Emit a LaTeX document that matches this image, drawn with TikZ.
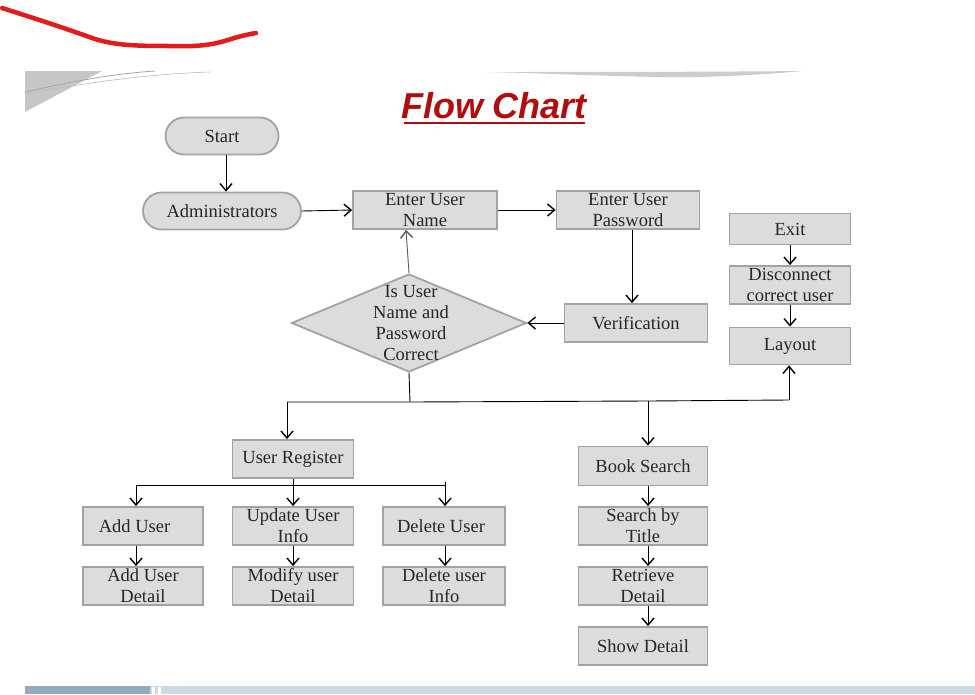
\documentclass[tikz,border=0pt]{standalone}
\usepackage{fontspec}
\setmainfont{Liberation Serif}
\newfontfamily\titlefont{Liberation Sans}
\usetikzlibrary{arrows.meta,shapes.geometric,shapes.misc}
\definecolor{boxfill}{HTML}{DCDCDC}
\definecolor{boxline}{HTML}{A3A3A3}
\definecolor{titlered}{HTML}{B00D0D}
\definecolor{penred}{HTML}{E21B1B}
\definecolor{barDark}{HTML}{92AABF}
\definecolor{barLight}{HTML}{CDDAE5}
\begin{document}
\begin{tikzpicture}[x=1pt,y=-1pt,
  every node/.style={font=\fontsize{18.5}{21}\selectfont, inner sep=0pt, align=center, text=black!85},
  box/.style={rectangle, draw=boxline, fill=boxfill, line width=1.8pt},
  term/.style={rounded rectangle, draw=boxline, fill=boxfill, line width=1.8pt},
  diam/.style={diamond, draw=boxline, fill=boxfill, line width=1.8pt, minimum width=235pt, minimum height=98pt},
  conn/.style={line width=0.9pt, -{Straight Barb[length=7pt,width=12pt,line width=1.4pt]}},
  plain/.style={line width=0.9pt}
]
\useasboundingbox (0,0) rectangle (975,694);
\fill[white] (0,0) rectangle (975,694);

% decorations
\draw[penred, line width=4.5pt, line cap=round, line join=round]
  (2,8) .. controls (40,20) and (70,30) .. (92,38) .. controls (115,46) and (140,46) .. (175,46)
  .. controls (200,47) and (215,44) .. (228,40) .. controls (240,36) and (250,34) .. (256,33);
\fill[gray!45] (25,71) -- (102,71) -- (25,112) -- cycle;
\draw[gray!70, line width=0.8pt] (25,92) .. controls (70,82) and (110,74) .. (155,71);
\draw[gray!55, line width=0.6pt] (25,94) .. controls (90,82) and (150,74) .. (210,72);
\fill[gray!40] (483,72) .. controls (580,72) and (700,72) .. (803,71)
  .. controls (760,75) and (700,78) .. (660,77) .. controls (600,76) and (540,73) .. (483,72) -- cycle;
\fill[barDark] (25,686) rectangle (150,694);
\fill[barLight] (150,686) rectangle (975,694);
\fill[white] (152,687) rectangle (155,694);
\fill[white] (158,687) rectangle (161,694);

% title
\node[font=\titlefont\bfseries\itshape\fontsize{36}{36}\selectfont, text=titlered] (title) at (494,106) {Flow Chart};
\draw[titlered, line width=1.8pt] (404,123) -- (585,123);

% nodes
\node[term, minimum width=113pt, minimum height=37pt] (start) at (222,136) {Start};
\node[term, minimum width=158pt, minimum height=37pt] (admin) at (222,211) {Administrators};
\node[box, minimum width=144pt, minimum height=38pt] (name) at (425,210) {Enter User\\Name};
\node[box, minimum width=143pt, minimum height=38pt] (pass) at (628,210) {Enter User\\Password};
\node[box, minimum width=143pt, minimum height=38pt] (verif) at (636,323) {Verification};
\node[diam] (dia) at (409,323) {};
\node (diatext) at (411,323) {Is User\\Name and\\Password\\Correct};
\node[box, minimum width=121pt, minimum height=31pt] (exit) at (790,229) {Exit};
\node[box, minimum width=121pt, minimum height=38pt] (disc) at (790,285) {Disconnect\\correct user};
\node[box, minimum width=121pt, minimum height=37pt] (layout) at (790,346) {Layout};

\node[box, minimum width=121pt, minimum height=38pt] (reg) at (293,459) {User Register};
\node[box, minimum width=120pt, minimum height=38pt] (add) at (143,526) {Add User\kern17pt};
\node[box, minimum width=121pt, minimum height=38pt] (upd) at (293,526) {Update User\\Info};
\node[box, minimum width=122pt, minimum height=38pt] (del) at (444,526) {Delete User\kern6pt};
\node[box, minimum width=120pt, minimum height=38pt] (addd) at (143,586) {Add User\\Detail};
\node[box, minimum width=121pt, minimum height=38pt] (mod) at (293,586) {Modify user\\Detail};
\node[box, minimum width=122pt, minimum height=38pt] (deli) at (444,586) {Delete user\\Info};

\node[box, minimum width=129pt, minimum height=39pt] (book) at (643,466) {Book Search};
\node[box, minimum width=129pt, minimum height=38pt] (title2) at (643,526) {Search by\\Title};
\node[box, minimum width=129pt, minimum height=38pt] (retr) at (643,586) {Retrieve\\Detail};
\node[box, minimum width=129pt, minimum height=38pt] (show) at (643,646) {Show Detail};

% junction coordinates
\coordinate (j0) at (410,402);
\coordinate (jL) at (287,402);
\coordinate (jM) at (648,401);
\coordinate (jR) at (789,400);
\coordinate (k0) at (293,485);
\coordinate (kL) at (136,485);
\coordinate (kR) at (445,485);

% connectors
\draw[conn] (start.south -| 226,0) -- (admin.north -| 226,0);
\draw[conn] (admin.east) -- (name.west);
\draw[conn] (name.east) -- (pass.west);
\draw[conn] (pass.south -| 632,0) -- (verif.north -| 632,0);
\draw[conn] (verif.west) -- (dia.east);
\draw[conn, draw=gray!70!black] (dia.north) -- (name.south -| 406,0);
\draw[conn] (exit.south) -- (disc.north);
\draw[conn] (disc.south) -- (layout.north);

\draw[plain] (dia.south) -- (j0);
\draw[plain] (jL) -- (j0) -- (jM) -- (jR);
\draw[conn] (jL) -- (reg.north -| jL);
\draw[conn] (jM) -- (book.north -| jM);
\draw[conn] (jR) -- (layout.south -| jR);

\draw[plain] (reg.south) -- (k0);
\draw[plain] (kL) -- (kR);
\draw[plain] (kR) -- ++(0,-3);
\draw[conn] (kL) -- (add.north -| kL);
\draw[conn] (k0) -- (upd.north);
\draw[conn] (kR) -- (del.north -| kR);

\draw[conn] (add.south -| kL) -- (addd.north -| kL);
\draw[conn] (upd.south) -- (mod.north);
\draw[conn] (del.south -| kR) -- (deli.north -| kR);

\draw[conn] (book.south -| jM) -- (title2.north -| jM);
\draw[conn] (title2.south -| jM) -- (retr.north -| jM);
\draw[conn] (retr.south -| jM) -- (show.north -| jM);
\end{tikzpicture}
\end{document}
